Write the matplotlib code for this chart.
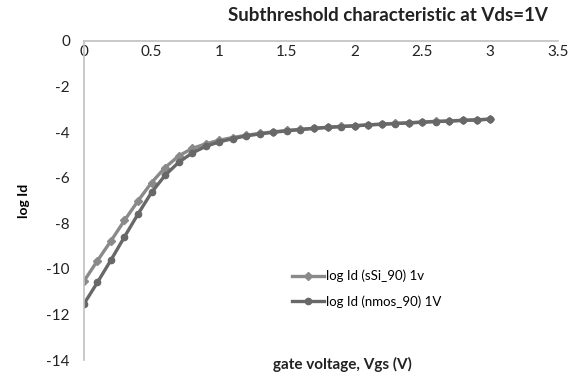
import numpy as np
import matplotlib
matplotlib.use("Agg")
from matplotlib import pyplot as plt

plt.rcParams['font.family'] = ['Lato', 'DejaVu Sans']
plt.rcParams['axes.unicode_minus'] = False

# gate voltage (V), 0 to 3 in 0.1 V steps
vgs = [0.0, 0.1, 0.2, 0.3, 0.4, 0.5, 0.6, 0.7, 0.8, 0.9, 1.0,
       1.1, 1.2, 1.3, 1.4, 1.5, 1.6, 1.7, 1.8, 1.9, 2.0,
       2.1, 2.2, 2.3, 2.4, 2.5, 2.6, 2.7, 2.8, 2.9, 3.0]

log_id_ssi = [-10.55, -9.65, -8.78, -7.88, -7.02, -6.22, -5.56, -5.05, -4.72, -4.52, -4.36,
              -4.24, -4.14, -4.06, -3.99, -3.93, -3.88, -3.83, -3.79, -3.75, -3.72,
              -3.68, -3.65, -3.62, -3.59, -3.56, -3.53, -3.51, -3.48, -3.46, -3.43]

log_id_nmos = [-11.55, -10.6, -9.62, -8.6, -7.6, -6.65, -5.9, -5.33, -4.92, -4.63, -4.43,
               -4.29, -4.17, -4.08, -4.01, -3.95, -3.89, -3.84, -3.8, -3.76, -3.73,
               -3.69, -3.66, -3.63, -3.6, -3.57, -3.54, -3.52, -3.49, -3.47, -3.44]

x_ticks = [0, 0.5, 1, 1.5, 2, 2.5, 3, 3.5]
y_ticks = [0, -2, -4, -6, -8, -10, -12, -14]

fig = plt.figure(figsize=(5.78, 3.75), dpi=100)
ax = fig.add_axes([0.145, 0.04, 0.82, 0.851])

ax.plot(vgs, log_id_ssi, '-', color='#8a8a8a', lw=2.4, marker='D', ms=4.5,
        label='log Id (sSi_90) 1v')
ax.plot(vgs, log_id_nmos, '-', color='#686868', lw=2.4, marker='o', ms=4.5,
        label='log Id (nmos_90) 1V')

ax.set_xlim(0, 3.5)
ax.set_ylim(-14, 0)
ax.set_xticks(x_ticks)
ax.set_xticklabels([str(t) for t in x_ticks])
ax.set_yticks(y_ticks)

# Excel style: horizontal axis crosses at 0 (top of plot)
ax.spines['bottom'].set_position(('data', 0))
ax.spines['top'].set_visible(False)
ax.spines['right'].set_visible(False)
for s in ['bottom', 'left']:
    ax.spines[s].set_color('#c0c0c0')
    ax.spines[s].set_linewidth(1.2)
ax.tick_params(axis='both', length=0, labelsize=11, colors='#222222')
ax.tick_params(axis='y', pad=10)
ax.tick_params(axis='x', pad=3)

ax.set_ylabel('log Id', fontsize=10, fontweight='bold', labelpad=12)
fig.text(0.593, 0.028, 'gate voltage, Vgs (V)', ha='center', va='center',
         fontsize=11, fontweight='bold', color='#222222')
fig.text(0.672, 0.958, 'Subthreshold characteristic at Vds=1V', ha='center',
         va='center', fontsize=13.5, fontweight='bold', color='#222222')

ax.legend(loc='center', bbox_to_anchor=(0.635, 0.23), bbox_transform=fig.transFigure,
          frameon=False, fontsize=9.5, handlelength=2.4, handletextpad=0.2,
          labelspacing=1.0)

fig.savefig('out.png', dpi=100)
